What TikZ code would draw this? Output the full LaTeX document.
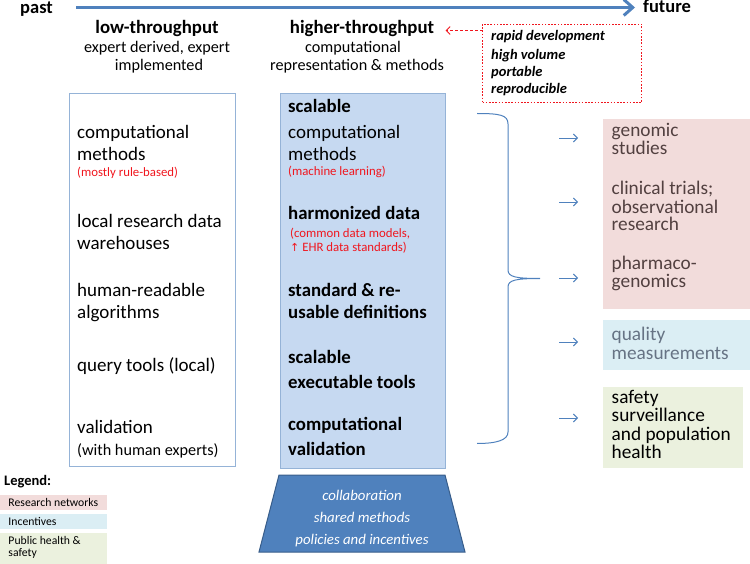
\documentclass[tikz,border=0pt]{standalone}
\usepackage{fontspec}
\setmainfont{Carlito}
\newfontfamily\symfont{DejaVu Sans}
\usetikzlibrary{arrows.meta}
\definecolor{accent}{HTML}{4F81BD}
\definecolor{accentdark}{HTML}{385D8A}
\definecolor{boxline}{HTML}{95B3D7}
\definecolor{midfill}{HTML}{C6D9F1}
\definecolor{redtxt}{HTML}{F0161E}
\definecolor{pinkfill}{HTML}{F2DCDB}
\definecolor{bluefill}{HTML}{DBEEF4}
\definecolor{greenfill}{HTML}{EBF1DE}
\definecolor{pinktxt}{HTML}{524040}
\definecolor{bluetxt}{HTML}{667384}
\begin{document}
\begin{tikzpicture}[x=1pt,y=-1pt,
  tl/.style={anchor=base west,inner sep=0pt},
  tc/.style={anchor=base,inner sep=0pt},
  big/.style={font=\fontsize{19}{22}\selectfont},
  bigb/.style={font=\fontsize{18.8}{22}\selectfont\bfseries},
  sub/.style={font=\fontsize{16.2}{18}\selectfont},
  redsmall/.style={font=\fontsize{12.8}{15}\selectfont,text=redtxt},
  outtxt/.style={font=\fontsize{19.3}{18}\selectfont},
  boxit/.style={font=\fontsize{14.5}{18}\selectfont\bfseries\itshape},
  legtxt/.style={font=\fontsize{11.7}{13}\selectfont},
  smallarrow/.style={draw=accent,line width=0.9pt,-{Straight Barb[length=4pt,width=8pt]}},
  area/.style={inner sep=0pt,outer sep=0pt}
]
\useasboundingbox (0,0) rectangle (750,564);

% timeline
\node[tl,font=\fontsize{18.5}{22}\selectfont\bfseries] (past) at (20,13.3) {past};
\node[tl,font=\fontsize{18.5}{22}\selectfont\bfseries] (future) at (643,12.7) {future};
\coordinate (tstart) at (76,7.5);
\coordinate (tend) at (635,7.5);
\draw[accent,line width=3.2pt,-{Straight Barb[length=9pt,width=16pt,line width=3pt]}] (tstart) -- (tend);

% column titles
\node[tc,bigb] (lowt) at (157,33.3) {low-throughput};
\node[tc,sub] (lows1) at (157,52.7) {expert derived, expert};
\node[tc,sub] (lows2) at (159,71) {implemented};
\node[tc,bigb] (hight) at (362,33.3) {higher-throughput};
\node[tc,sub] (highs1) at (353,52.7) {computational};
\node[tc,sub] (highs2) at (357,71) {representation \& methods};

% red dotted box
\node[draw=redtxt,line width=0.9pt,dash pattern=on 1.6pt off 1.6pt,area,minimum width=159pt,minimum height=78.7pt,anchor=north west] (props) at (482.5,24) {};
\node[tl,boxit] (p1) at (491,40.7) {rapid development};
\node[tl,boxit] (p2) at (491,59.3) {high volume};
\node[tl,boxit] (p3) at (491,76.7) {portable};
\node[tl,boxit] (p4) at (491,94) {reproducible};
\coordinate (ptip) at (445.5,30.5);
\draw[redtxt,line width=0.9pt,dash pattern=on 3pt off 2pt,-{Straight Barb[length=4pt,width=8pt]}] (props.west |- ptip) -- (ptip);

% left box
\node[draw=boxline,line width=1pt,area,minimum width=166pt,minimum height=372.5pt,anchor=north west] (leftbox) at (69.5,93.5) {};
\node[tl,big] (a1) at (77,138.3) {computational};
\node[tl,big] (a2) at (77,160.7) {methods};
\node[tl,redsmall] (a3) at (77,176.7) {(mostly rule-based)};
\node[tl,big] (a4) at (77,228) {local research data};
\node[tl,big] (a5) at (77,250) {warehouses};
\node[tl,big] (a6) at (77,296.7) {human-readable};
\node[tl,big] (a7) at (77,318) {algorithms};
\node[tl,big] (a8) at (77,371) {query tools (local)};
\node[tl,big] (a9) at (77,433) {validation};
\node[tl,sub] (a10) at (77,455) {(with human experts)};

% middle box
\node[draw=boxline,fill=midfill,line width=1pt,area,minimum width=165.5pt,minimum height=374pt,anchor=north west] (midbox) at (280,94) {};
\node[tl,bigb] (b1) at (288,113) {scalable};
\node[tl,big] (b2) at (288,138.3) {computational};
\node[tl,big] (b3) at (288,160.7) {methods};
\node[tl,redsmall] (b4) at (288,176) {(machine learning)};
\node[tl,bigb] (b5) at (288,220) {harmonized data};
\node[tl,redsmall] (b6) at (290,237.7) {(common data models,};
\node[tl,redsmall] (b7) at (290,251.7) {{\symfont\fontsize{11}{13}\selectfont↑} EHR data standards)};
\node[tl,bigb] (b8) at (288,296.7) {standard \& re-};
\node[tl,bigb] (b9) at (288,318) {usable definitions};
\node[tl,bigb] (b10) at (288,363) {scalable};
\node[tl,bigb] (b11) at (288,388) {executable tools};
\node[tl,bigb] (b12) at (288,430) {computational};
\node[tl,bigb] (b13) at (288,455) {validation};

% trapezoid
\draw[fill=accent,draw=accentdark,line width=1pt] (279,475) -- (445,475) -- (465,552) -- (259,552) -- cycle;
\node[tc,font=\fontsize{14.8}{22}\selectfont\itshape,text=white] (c1) at (362,500) {collaboration};
\node[tc,font=\fontsize{14.8}{22}\selectfont\itshape,text=white] (c2) at (362,522) {shared methods};
\node[tc,font=\fontsize{14.8}{22}\selectfont\itshape,text=white] (c3) at (362,544) {policies and incentives};

% brace
\coordinate (br1) at (477,113.5);
\coordinate (brtip) at (540,278.5);
\coordinate (br2) at (477,443.5);
\draw[accent,line width=1pt] (br1) .. controls (500,113.5) and (508,115) .. (508,124)
  -- (508,270) .. controls (508,277) and (516,278.5) .. (brtip)
  .. controls (516,278.5) and (508,280) .. (508,287)
  -- (508,432) .. controls (508,440) and (497,443.5) .. (br2);

% outcome boxes
\node[fill=pinkfill,area,minimum width=147pt,minimum height=190pt,anchor=north west] (pink) at (603,119) {};
\node[fill=bluefill,area,minimum width=147pt,minimum height=50pt,anchor=north west] (blue) at (603,320) {};
\node[fill=greenfill,area,minimum width=140pt,minimum height=81pt,anchor=north west] (green) at (603,387) {};

\node[tl,outtxt,text=pinktxt] (o1) at (611.5,136.7) {genomic};
\node[tl,outtxt,text=pinktxt] (o2) at (611.5,155) {studies};
\node[tl,outtxt,text=pinktxt] (o3) at (611.5,194.3) {clinical trials;};
\node[tl,outtxt,text=pinktxt] (o4) at (611.5,213.3) {observational};
\node[tl,outtxt,text=pinktxt] (o5) at (611.5,230.7) {research};
\node[tl,outtxt,text=pinktxt] (o6) at (611.5,270) {pharmaco-};
\node[tl,outtxt,text=pinktxt] (o7) at (611.5,287.7) {genomics};
\node[tl,outtxt,text=bluetxt] (o8) at (611.5,340.7) {quality};
\node[tl,outtxt,text=bluetxt] (o9) at (611.5,359) {measurements};
\node[tl,outtxt] (o10) at (611.5,403) {safety};
\node[tl,outtxt] (o11) at (611.5,421.7) {surveillance};
\node[tl,outtxt] (o12) at (611.5,440) {and population};
\node[tl,outtxt] (o13) at (611.5,458.3) {health};

% small arrows
\foreach \y/\n in {138/1,202/2,278/3,342/4,418/5}{
  \coordinate (s\n) at (559,\y);
  \coordinate (e\n) at (578,\y);
  \draw[smallarrow] (s\n) -- (e\n);
}

% legend
\node[tl,font=\fontsize{14.5}{16}\selectfont\bfseries] (leg) at (4,485) {Legend:};
\node[fill=pinkfill,area,minimum width=106.5pt,minimum height=15pt,anchor=north west] (lg1) at (0,495) {};
\node[fill=bluefill,area,minimum width=106.5pt,minimum height=15.3pt,anchor=north west] (lg2) at (0,514) {};
\node[fill=greenfill,area,minimum width=106.5pt,minimum height=30.7pt,anchor=north west] (lg3) at (0,533.3) {};
\node[tl,legtxt] (lt1) at (8.3,506.7) {Research networks};
\node[tl,legtxt] (lt2) at (8.3,525.7) {Incentives};
\node[tl,legtxt] (lt3) at (8.3,544) {Public health \&};
\node[tl,legtxt] (lt4) at (8.3,556.7) {safety};
\end{tikzpicture}
\end{document}
